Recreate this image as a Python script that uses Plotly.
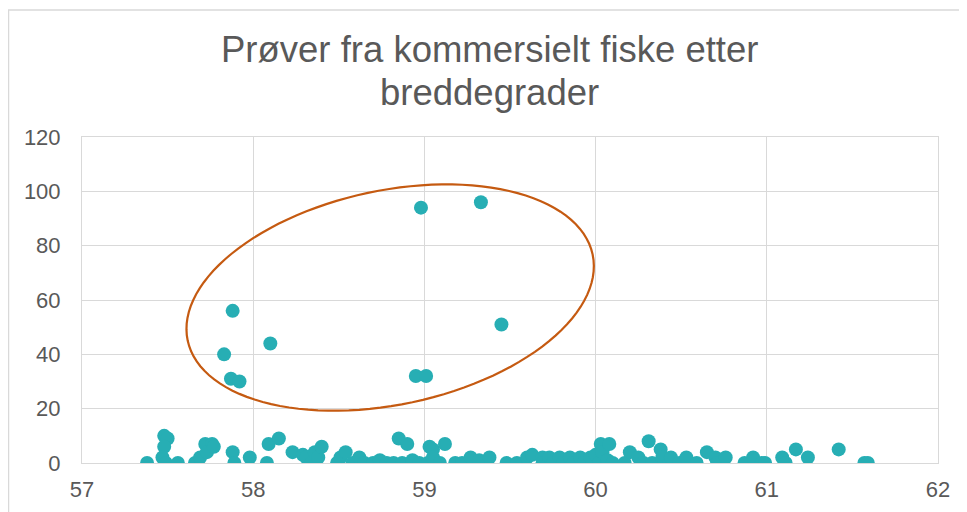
import numpy as np
import plotly.graph_objects as go

TITLE_LINES = ["Prøver fra kommersielt fiske etter", "breddegrader"]

# outliers (inside the ellipse)
out_lat = [58.98, 59.33, 57.88, 58.10, 57.83, 57.87, 57.92, 58.95, 59.01, 59.45]
out_val = [94, 96, 56, 44, 40, 31, 30, 32, 32, 51]

# low-value samples
low_lat = [57.38, 57.48, 57.50, 57.48, 57.47, 57.49, 57.56, 57.66, 57.69, 57.72,
           57.76, 57.73, 57.77, 57.88, 57.89, 57.98, 58.08, 58.09, 58.15, 58.23,
           58.29, 58.31, 58.34, 58.36, 58.38, 58.40, 58.49, 58.51, 58.54, 58.58,
           58.62, 58.65, 58.70, 58.74, 58.78, 58.82, 58.85, 58.90, 58.87, 58.93,
           58.97, 59.02, 59.03, 59.05, 59.05, 59.09, 59.12, 59.18, 59.22, 59.27,
           59.32, 59.38, 59.48, 59.54, 59.60, 59.63, 59.69, 59.69, 59.73, 59.75,
           59.79, 59.81, 59.85, 59.87, 59.91, 59.93, 59.97, 60.00, 60.02, 60.03,
           60.04, 60.08, 60.07, 60.10, 60.17, 60.20, 60.25, 60.28, 60.31, 60.33,
           60.38, 60.39, 60.43, 60.44, 60.49, 60.53, 60.59, 60.65, 60.70, 60.71,
           60.76, 60.87, 60.92, 60.97, 60.99, 61.09, 61.11, 61.17, 61.24, 61.42,
           61.57, 61.59]
low_val = [0, 10, 9, 6, 2, 0, 0, 0, 2, 7,
           7, 4, 6, 4, 0, 2, 0, 7, 9, 4,
           3, 2, 0, 4, 2, 6, 0, 2, 4, 0,
           2, 0, 0, 1, 0, 0, 9, 7, 0, 1,
           0, 0, 6, 5, 2, 0, 7, 0, 0, 2,
           1, 2, 0, 0, 2, 3, 2, 0, 2, 0,
           2, 0, 2, 0, 2, 0, 2, 3, 0, 7,
           4, 7, 1, 0, 0, 4, 2, 0, 8, 0,
           5, 2, 0, 2, 0, 2, 0, 4, 2, 0,
           2, 0, 2, 0, 0, 2, 0, 5, 2, 5,
           0, 0]

lat = out_lat + low_lat
val = out_val + low_val

X_TICKS = [57, 58, 59, 60, 61, 62]
Y_TICKS = [0, 20, 40, 60, 80, 100, 120]

# page body has an 8px margin, so the figure is 8px smaller than the window
W, H = 959, 504
ML, MR, MT, MB = 74, 29, 129, 49
pw, ph = W - ML - MR, H - MT - MB
sx = pw / (X_TICKS[-1] - X_TICKS[0])
sy = ph / (Y_TICKS[-1] - Y_TICKS[0])

# highlight ellipse: center in data units, semi-axes in pixels, tilt in degrees
E_CX, E_CY, E_A, E_B, E_ANG = 58.80, 60.9, 207, 107, 12
t = np.linspace(0, 2 * np.pi, 121)
th = np.radians(E_ANG)
dx = E_A * np.cos(th) * np.cos(t) - E_B * np.sin(th) * np.sin(t)
dy = E_A * np.sin(th) * np.cos(t) + E_B * np.cos(th) * np.sin(t)
ex = E_CX + dx / sx
ey = E_CY + dy / sy
path = "M " + " L ".join(f"{a:.4f},{b:.4f}" for a, b in zip(ex, ey)) + " Z"

fig = go.Figure()
fig.add_trace(go.Scatter(x=lat, y=val, mode="markers",
                         marker=dict(color="#27AEB4", size=14, line=dict(width=0)),
                         showlegend=False))

grid = "#d9d9d9"
title_x = (489.5 - 8 - ML) / pw
title_y = [1.2693, 1.1374]
annotations = [
    dict(text=txt, xref="paper", yref="paper", x=title_x, y=yy,
         xanchor="center", yanchor="middle", showarrow=False,
         font=dict(size=36.5, color="#595959"))
    for txt, yy in zip(TITLE_LINES, title_y)
]

fig.update_layout(
    width=W, height=H,
    margin=dict(l=ML, r=MR, t=MT, b=MB, autoexpand=False),
    paper_bgcolor="white", plot_bgcolor="white",
    font=dict(family="Liberation Sans, Arial, sans-serif", color="#595959"),
    annotations=annotations,
    xaxis=dict(range=[57, 62], tickvals=X_TICKS, showgrid=True, gridcolor=grid,
               gridwidth=1, zeroline=False, showline=True, linecolor=grid,
               mirror=True, tickfont=dict(size=22, color="#595959"),
               ticks="", ticklabelstandoff=7, automargin=False),
    yaxis=dict(range=[0, 120], tickvals=Y_TICKS, showgrid=True, gridcolor=grid,
               gridwidth=1, zeroline=False, showline=True, linecolor=grid,
               mirror=True, tickfont=dict(size=22, color="#595959"),
               ticks="", ticklabelstandoff=16, automargin=False),
    shapes=[
        dict(type="path", path=path, xref="x", yref="y",
             line=dict(color="#C55A11", width=2.2), fillcolor="rgba(0,0,0,0)"),
        dict(type="rect", xref="paper", yref="paper",
             x0=(0.5 - ML) / pw, x1=1.2, y0=-0.5, y1=(H - MB - 2) / ph,
             line=dict(color=grid, width=1.5), fillcolor="rgba(0,0,0,0)"),
    ],
)

fig.write_html("out.html")
